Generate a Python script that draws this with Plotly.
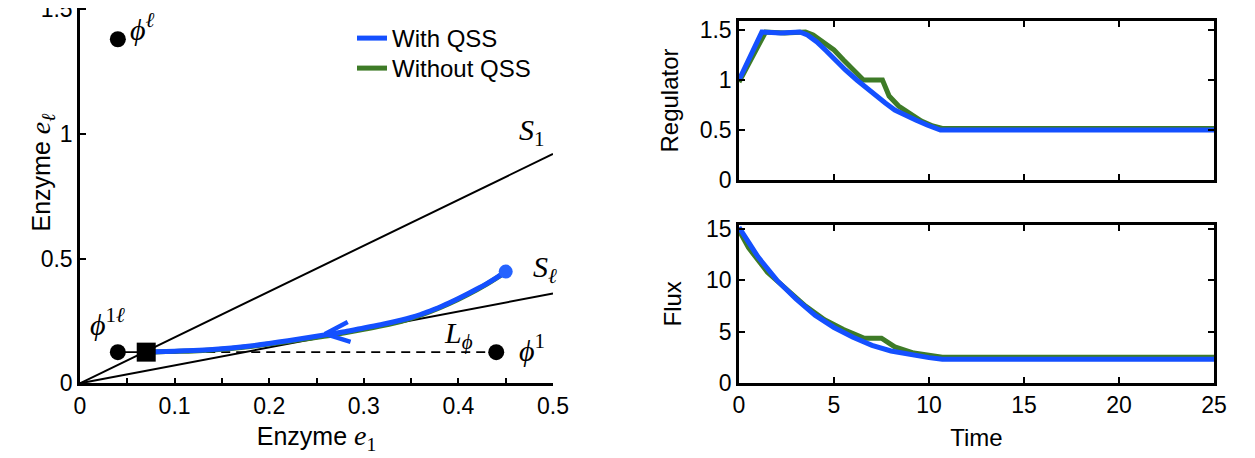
import plotly.graph_objects as go

# reference picture size; the page body adds an 8px margin, so the figure is
# drawn 8px smaller and every reference pixel position is shifted by OFF
W, H = 1255, 458
OFF = 8
FW, FH = W - OFF, H - OFF

# ---------------- left panel data ----------------
s1_x = [0.0, 0.5]
s1_y = [0.0, 0.92]
sl_x = [0.0, 0.5]
sl_y = [0.0, 0.36]

traj_qss_x = [0.45, 0.44, 0.43, 0.42, 0.41, 0.40, 0.39, 0.38, 0.37, 0.36, 0.35, 0.34,
              0.32, 0.30, 0.28, 0.26, 0.24, 0.22, 0.20, 0.18, 0.16, 0.14, 0.12, 0.10, 0.08, 0.07]
traj_qss_y = [0.448, 0.423, 0.400, 0.379, 0.359, 0.340, 0.322, 0.305, 0.290, 0.276, 0.264, 0.254,
              0.237, 0.222, 0.207, 0.195, 0.183, 0.171, 0.160, 0.150, 0.142, 0.136, 0.132, 0.129, 0.127, 0.126]
traj_noqss_x = [0.45, 0.43, 0.41, 0.39, 0.37, 0.35, 0.34, 0.32, 0.30, 0.28, 0.26, 0.24,
                0.22, 0.20, 0.18, 0.16, 0.14, 0.12, 0.10, 0.08, 0.07]
traj_noqss_y = [0.446, 0.398, 0.356, 0.319, 0.287, 0.260, 0.249, 0.232, 0.217, 0.203, 0.190, 0.179,
                0.168, 0.158, 0.148, 0.140, 0.134, 0.130, 0.128, 0.126, 0.125]

arrow_x = [0.283, 0.259, 0.286]
arrow_y = [0.246, 0.198, 0.166]

lphi_x = [0.07, 0.44]
lphi_y = [0.125, 0.125]
link_x = [0.04, 0.07]
link_y = [0.125, 0.125]

dots_x = [0.04, 0.04, 0.44]
dots_y = [1.38, 0.125, 0.125]
steady_x = [0.07]
steady_y = [0.125]

# ---------------- right panel data ----------------
reg_t_qss = [0, 1.2, 2.2, 3.2, 3.6, 4.1, 4.6, 5.1, 5.6, 6.2, 6.7, 7.2, 7.7, 8.2, 8.7, 9.3, 9.9, 10.6, 25]
reg_v_qss = [1.0, 1.48, 1.47, 1.48, 1.45, 1.38, 1.29, 1.19, 1.10, 1.0, 0.92, 0.84, 0.77, 0.70, 0.65,
             0.60, 0.55, 0.50, 0.50]
reg_t_noqss = [0, 1.4, 2.4, 3.5, 3.9, 4.5, 5.0, 5.5, 6.0, 6.55, 7.55, 7.9, 8.4, 9.0, 9.6, 10.2, 10.7, 25]
reg_v_noqss = [0.98, 1.48, 1.47, 1.48, 1.45, 1.37, 1.30, 1.20, 1.10, 1.0, 1.0, 0.84, 0.74, 0.66, 0.59,
               0.54, 0.515, 0.515]

flux_t_qss = [0, 1, 2, 3, 4, 5, 6, 7, 8, 9, 10, 10.7, 25]
flux_v_qss = [15.2, 12.3, 10.0, 8.2, 6.6, 5.4, 4.45, 3.65, 3.1, 2.75, 2.45, 2.3, 2.3]
flux_t_noqss = [0, 0.5, 1.5, 2.5, 3.5, 4.5, 5.5, 6.6, 7.5, 8.2, 9.2, 10.7, 25]
flux_v_noqss = [14.9, 13.2, 10.8, 9.2, 7.5, 6.15, 5.2, 4.35, 4.35, 3.5, 2.9, 2.5, 2.5]

left_xticks = [0, 0.05, 0.1, 0.15, 0.2, 0.25, 0.3, 0.35, 0.4, 0.45, 0.5]
left_xlabels = ["0", "", "0.1", "", "0.2", "", "0.3", "", "0.4", "", "0.5"]
left_yticks = [0, 0.5, 1, 1.5]
left_ylabels = ["0", "0.5", "1", "1.5"]
time_ticks = [0, 5, 10, 15, 20, 25]
reg_ticks = [0, 0.5, 1, 1.5]
reg_labels = ["0", "0.5", "1", "1.5"]
flux_ticks = [0, 5, 10, 15]

BLUE = "#1450ff"
GREEN = "#3e7b27"
SANS = "Liberation Sans, Arial, sans-serif"
SERIF = "Liberation Serif, DejaVu Serif, serif"


def px_x(p):
    return (p - OFF) / FW


def px_y(p):
    return (H - p) / FH


fig = go.Figure()

# left panel
fig.add_trace(go.Scatter(x=s1_x, y=s1_y, mode="lines", line=dict(color="black", width=2),
                         showlegend=False, xaxis="x", yaxis="y", hoverinfo="skip"))
fig.add_trace(go.Scatter(x=sl_x, y=sl_y, mode="lines", line=dict(color="black", width=2),
                         showlegend=False, xaxis="x", yaxis="y", hoverinfo="skip"))
fig.add_trace(go.Scatter(x=lphi_x, y=lphi_y, mode="lines",
                         line=dict(color="black", width=1.8, dash="9px,6px"),
                         showlegend=False, xaxis="x", yaxis="y"))
fig.add_trace(go.Scatter(x=link_x, y=link_y, mode="lines", line=dict(color="black", width=1.8),
                         showlegend=False, xaxis="x", yaxis="y"))
fig.add_trace(go.Scatter(x=traj_noqss_x, y=traj_noqss_y, mode="lines",
                         line=dict(color=GREEN, width=5, shape="spline", smoothing=0.8),
                         name="Without QSS", legend="legend2", xaxis="x", yaxis="y"))
fig.add_trace(go.Scatter(x=traj_qss_x, y=traj_qss_y, mode="lines",
                         line=dict(color=BLUE, width=5, shape="spline", smoothing=0.8),
                         name="With QSS", legend="legend", xaxis="x", yaxis="y"))
fig.add_trace(go.Scatter(x=arrow_x, y=arrow_y, mode="lines", line=dict(color=BLUE, width=4.5),
                         showlegend=False, xaxis="x", yaxis="y"))
fig.add_trace(go.Scatter(x=traj_qss_x[:1], y=traj_qss_y[:1], mode="markers",
                         marker=dict(color="#2563ff", size=14), showlegend=False,
                         xaxis="x", yaxis="y", cliponaxis=False))
fig.add_trace(go.Scatter(x=dots_x, y=dots_y, mode="markers",
                         marker=dict(color="black", size=16), showlegend=False,
                         xaxis="x", yaxis="y", cliponaxis=False))
fig.add_trace(go.Scatter(x=steady_x, y=steady_y, mode="markers",
                         marker=dict(color="black", size=19, symbol="square"), showlegend=False,
                         xaxis="x", yaxis="y", cliponaxis=False))

# right top
fig.add_trace(go.Scatter(x=reg_t_noqss, y=reg_v_noqss, mode="lines", line=dict(color=GREEN, width=5),
                         showlegend=False, xaxis="x2", yaxis="y2"))
fig.add_trace(go.Scatter(x=reg_t_qss, y=reg_v_qss, mode="lines", line=dict(color=BLUE, width=5),
                         showlegend=False, xaxis="x2", yaxis="y2"))
# right bottom
fig.add_trace(go.Scatter(x=flux_t_noqss, y=flux_v_noqss, mode="lines", line=dict(color=GREEN, width=5),
                         showlegend=False, xaxis="x3", yaxis="y3"))
fig.add_trace(go.Scatter(x=flux_t_qss, y=flux_v_qss, mode="lines", line=dict(color=BLUE, width=5),
                         showlegend=False, xaxis="x3", yaxis="y3"))

axis_common = dict(showgrid=False, zeroline=False, showline=True, linecolor="black", linewidth=2.5,
                   ticks="inside", ticklen=6, tickwidth=2, tickcolor="black",
                   tickfont=dict(family=SANS, size=23, color="black"))

legend_common = dict(xanchor="left", yanchor="top", bgcolor="rgba(0,0,0,0)",
                     font=dict(family=SANS, size=24, color="black"), itemwidth=30)

MATH_E1 = ("Enzyme <span style='font-family:Liberation Serif;font-size:28px'>"
           "<i>e</i><sub>1</sub></span>")
MATH_EL = ("Enzyme <span style='font-family:Liberation Serif;font-size:28px'>"
           "<i>e</i><sub><i>ℓ</i></sub></span>")

fig.update_layout(
    width=FW, height=FH, margin=dict(l=0, r=0, t=0, b=0),
    paper_bgcolor="white", plot_bgcolor="white",
    font=dict(family=SANS, size=23, color="black"),
    xaxis=dict(domain=[px_x(80), px_x(553)], range=[0, 0.5], anchor="y",
               tickmode="array", tickvals=left_xticks, ticktext=left_xlabels,
               title=dict(text=MATH_E1, font=dict(size=25), standoff=10),
               automargin=False, **axis_common),
    yaxis=dict(domain=[px_y(383.3), px_y(8.1)], range=[0, 1.505], anchor="x",
               tickmode="array", tickvals=left_yticks, ticktext=left_ylabels,
               ticklabeloverflow="allow",
               automargin=False, **axis_common),
    xaxis2=dict(domain=[px_x(739), px_x(1214)], range=[0, 25], anchor="y2",
                tickmode="array", tickvals=time_ticks, showticklabels=False, mirror="ticks",
                automargin=False, **axis_common),
    yaxis2=dict(domain=[px_y(180), px_y(21)], range=[0, 1.59], anchor="x2",
                tickmode="array", tickvals=reg_ticks, ticktext=reg_labels, mirror="ticks",
                title=dict(text="Regulator", font=dict(size=24), standoff=15),
                automargin=False, **axis_common),
    xaxis3=dict(domain=[px_x(739), px_x(1214)], range=[0, 25], anchor="y3",
                tickmode="array", tickvals=time_ticks, mirror="ticks",
                title=dict(text="Time", font=dict(size=24), standoff=13),
                automargin=False, **axis_common),
    yaxis3=dict(domain=[px_y(382.7), px_y(225)], range=[0, 15.42], anchor="x3",
                tickmode="array", tickvals=flux_ticks, mirror="ticks",
                title=dict(text="Flux", font=dict(size=24), standoff=18),
                automargin=False, **axis_common),
    legend=dict(x=px_x(352), y=px_y(16), **legend_common),
    legend2=dict(x=px_x(352), y=px_y(46), **legend_common),
)

# y title of the left panel (placed off-centre, as in the reference)
fig.add_annotation(x=px_x(22), y=px_y(172), xref="paper", yref="paper", textangle=-90,
                   text=MATH_EL, showarrow=False, font=dict(family=SANS, size=25, color="black"))

labels = [
    (0.066, 1.43, "<i>ϕ</i><sup><i>ℓ</i></sup>"),
    (0.478, 1.01, "<i>S</i><sub>1</sub>"),
    (0.492, 0.46, "<i>S</i><sub><i>ℓ</i></sub>"),
    (0.40, 0.195, "<i>L</i><sub><i>ϕ</i></sub>"),
    (0.478, 0.14, "<i>ϕ</i><sup>1</sup>"),
    (0.029, 0.245, "<i>ϕ</i><sup>1<i>ℓ</i></sup>"),
]
for lx, ly, lt in labels:
    fig.add_annotation(x=lx, y=ly, xref="x", yref="y", text=lt, showarrow=False,
                       font=dict(family=SERIF, size=30, color="black"))

fig.write_html("out.html")
